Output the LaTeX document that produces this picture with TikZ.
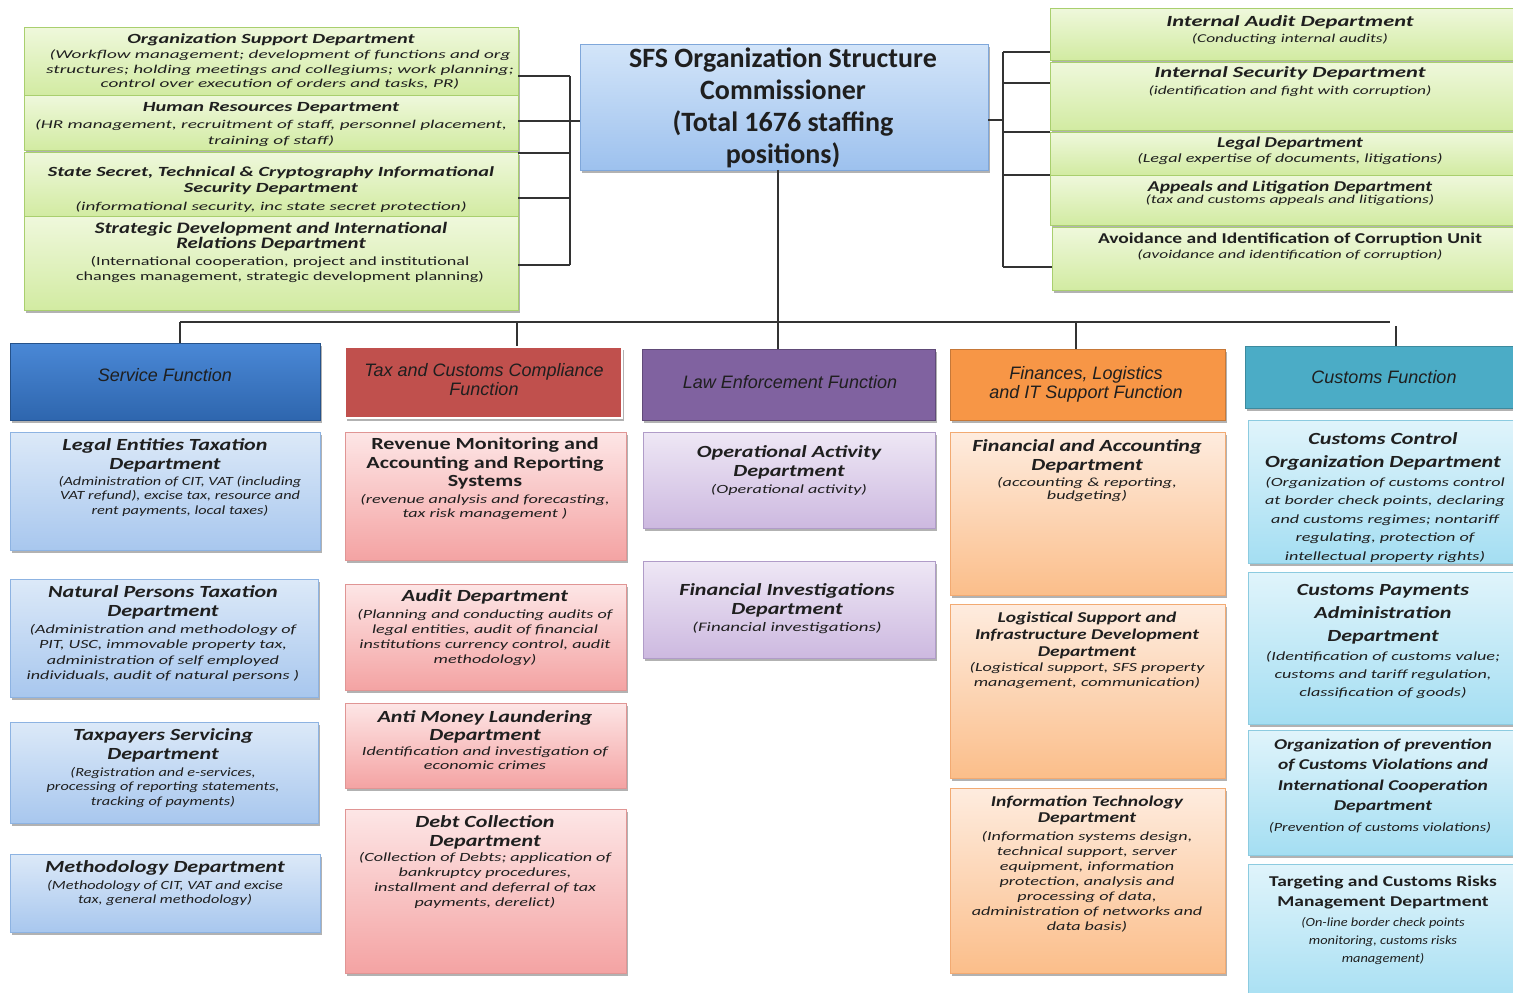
\documentclass[tikz,border=0pt]{standalone}
\usepackage{fontspec}
\setmainfont{Carlito}
\newfontfamily\fsA{Carlito}[FakeStretch=1.15]
\newfontfamily\fsB{Carlito}[FakeStretch=1.3]
\newfontfamily\fsC{Carlito}[FakeStretch=1.45]
\newfontfamily\fsD{Carlito}[FakeStretch=1.6]
\newfontfamily\hfont{Liberation Sans}
\usetikzlibrary{shadows}
\definecolor{grT}{HTML}{EFF8DC}\definecolor{grB}{HTML}{D2EBA2}\definecolor{grD}{HTML}{A9CF6E}
\definecolor{blT}{HTML}{DCE9F8}\definecolor{blB}{HTML}{A8C7EE}\definecolor{blD}{HTML}{8DB3E2}
\definecolor{rdT}{HTML}{FDE6E6}\definecolor{rdB}{HTML}{F4A3A3}\definecolor{rdD}{HTML}{E09594}
\definecolor{puT}{HTML}{EEE7F5}\definecolor{puB}{HTML}{CDB9E0}\definecolor{puD}{HTML}{B09CC8}
\definecolor{orT}{HTML}{FEECDF}\definecolor{orB}{HTML}{FBBE8A}\definecolor{orD}{HTML}{F2AA72}
\definecolor{cyT}{HTML}{E0F4FB}\definecolor{cyB}{HTML}{A4DEF2}\definecolor{cyD}{HTML}{8CCBE0}
\definecolor{ceT}{HTML}{D3E5F9}\definecolor{ceB}{HTML}{9DC1EE}\definecolor{ceD}{HTML}{7FA7DA}
\definecolor{hSvT}{HTML}{4A88D6}\definecolor{hSvB}{HTML}{2E66AE}
\definecolor{hTax}{HTML}{C0504D}\definecolor{hLaw}{HTML}{8062A0}\definecolor{hFin}{HTML}{F79646}\definecolor{hCus}{HTML}{4BACC6}
\definecolor{lnC}{HTML}{333333}
\newcommand\mybx[6]{\node[#2, minimum width={#5pt-#3pt}, minimum height={#6pt-#4pt}] (#1) at ({(#3+#5)/2},{(#4+#6)/2}) {};}
\newcommand\mytx[7]{\node[anchor=north, align=center, inner sep=0pt, font={\fontsize{#4}{#5}\selectfont #6}, text=black!88] (#1) at (#2,{#3-0.42*#4}) {#7};}
\tikzset{
 box/.style={rectangle, draw, line width=0.9pt, inner sep=0pt},
 shd/.style={drop shadow={shadow xshift=1.5pt, shadow yshift=-2.5pt, opacity=0.3, fill=black}},
 gbox/.style={box, shd, draw=grD, top color=grT, bottom color=grB},
 bbox/.style={box, shd, draw=blD, top color=blT, bottom color=blB},
 rbox/.style={box, shd, draw=rdD, top color=rdT, bottom color=rdB},
 pbox/.style={box, shd, draw=puD, top color=puT, bottom color=puB},
 obox/.style={box, shd, draw=orD, top color=orT, bottom color=orB},
 cbox/.style={box, shd, draw=cyD, top color=cyT, bottom color=cyB},
 cenbox/.style={box, shd, draw=ceD, top color=ceT, bottom color=ceB},
 hsvc/.style={box, shd, draw=hSvB!80!black, top color=hSvT, bottom color=hSvB},
 htax/.style={box, shd, draw=white, line width=2.5pt, fill=hTax},
 hlaw/.style={box, shd, draw=hLaw!75!black, fill=hLaw},
 hfin/.style={box, shd, draw=hFin!80!black, fill=hFin},
 hcus/.style={box, shd, draw=hCus!80!black, fill=hCus},
 conn/.style={draw=lnC, line width=1.6pt},
}
\begin{document}
\begin{tikzpicture}[x=1pt,y=-1pt]
\useasboundingbox (0,0) rectangle (1513,993);
\fill[white] (0,0) rectangle (1513,993);
% ---- left support panel
\mybx{os}{gbox}{24}{27}{518}{95}
\mybx{hr}{gbox}{24}{95}{518}{150}
\mybx{ss}{gbox}{24}{152}{518}{216}
\mybx{sd}{gbox}{24}{216}{518}{310}
\mytx{ost}{271}{39}{14}{15}{\fsC\bfseries\itshape}{Organization Support Department}
\mytx{osd}{280}{55}{12}{14.5}{\fsD\itshape}{(Workflow management; development of functions and org\\structures; holding meetings and collegiums; work planning;\\control over execution of orders and tasks, PR)}
\mytx{hrt}{271}{108}{14}{15}{\fsC\bfseries\itshape}{Human Resources Department}
\mytx{hrd}{271}{125}{12}{15.5}{\fsD\itshape}{(HR management, recruitment of staff, personnel placement,\\training of staff)}
\mytx{sst}{271}{172}{14}{16.5}{\fsC\bfseries\itshape}{State Secret, Technical \& Cryptography Informational\\Security Department}
\mytx{ssd}{271}{207}{12}{15}{\fsD\itshape}{(informational security, inc state secret protection)}
\mytx{sdt}{271}{229}{16}{15}{\fsB\bfseries\itshape}{Strategic Development and International\\Relations Department}
\mytx{sdd}{280}{261}{12.5}{15}{\fsC}{(International cooperation, project and institutional\\changes management, strategic development planning)}
% ---- centre
\mybx{cen}{cenbox}{580}{44}{988}{170}
\mytx{cent}{783}{59}{28}{32}{\bfseries}{SFS Organization Structure\\Commissioner\\(Total 1676 staffing\\positions)}
% ---- right support panel
\mybx{ia}{gbox}{1050}{8}{1530}{60}
\mybx{is}{gbox}{1050}{62}{1530}{130}
\mybx{lg}{gbox}{1050}{132}{1530}{175}
\mybx{ap}{gbox}{1050}{175}{1530}{225}
\mybx{av}{gbox}{1052}{227}{1530}{290}
\mytx{iat}{1290}{22}{15.5}{17}{\fsC\bfseries\itshape}{Internal Audit Department}
\mytx{iad}{1290}{39}{12}{14}{\fsC\itshape}{(Conducting internal audits)}
\mytx{ist}{1290}{73}{15.5}{17}{\fsC\bfseries\itshape}{Internal Security Department}
\mytx{isd}{1290}{91}{12}{14}{\fsC\itshape}{(identification and fight with corruption)}
\mytx{lgt}{1290}{143}{15}{16}{\fsB\bfseries\itshape}{Legal Department}
\mytx{lgd}{1290}{158}{12.5}{14}{\fsC\itshape}{(Legal expertise of documents, litigations)}
\mytx{apt}{1290}{187}{15}{16}{\fsB\bfseries\itshape}{Appeals and Litigation Department}
\mytx{apd}{1290}{200}{12}{14}{\fsC\itshape}{(tax and customs appeals and litigations)}
\mytx{avt}{1290}{239}{15}{16}{\fsB\bfseries}{Avoidance and Identification of Corruption Unit}
\mytx{avd}{1290}{255}{12}{14}{\fsC\itshape}{(avoidance and identification of corruption)}
% ---- function headers
\mybx{svc}{hsvc}{10}{343}{320}{420}
\mybx{tax}{htax}{345}{347}{622}{418}
\mybx{law}{hlaw}{642}{349}{935}{420}
\mybx{fin}{hfin}{950}{349}{1225}{420}
\mybx{cus}{hcus}{1245}{346}{1530}{408}
\mytx{svct}{165}{376}{18}{19}{\hfont\itshape}{Service Function}
\mytx{taxt}{484}{371}{18}{19}{\hfont\itshape}{Tax and Customs Compliance\\Function}
\mytx{lawt}{790}{383}{18}{19}{\hfont\itshape}{Law Enforcement Function}
\mytx{fint}{1086}{374}{18}{18.5}{\hfont\itshape}{Finances, Logistics\\and IT Support Function}
\mytx{cust}{1384}{378}{18}{19}{\hfont\itshape}{Customs Function}
% ---- column 1 service
\mybx{le}{bbox}{10}{432}{320}{550}
\mybx{np}{bbox}{10}{579}{318}{697}
\mybx{ts}{bbox}{10}{722}{318}{823}
\mybx{md}{bbox}{10}{854}{320}{932}
\mytx{let}{165}{445}{17}{19}{\fsB\bfseries\itshape}{Legal Entities Taxation\\Department}
\mytx{led}{180}{481}{12.5}{14.5}{\fsB\itshape}{(Administration of CIT, VAT (including\\VAT refund), excise tax, resource and\\rent payments, local taxes)}
\mytx{npt}{163}{592}{17}{19}{\fsB\bfseries\itshape}{Natural Persons Taxation\\Department}
\mytx{npd}{163}{629}{12.5}{15.5}{\fsC\itshape}{(Administration and methodology of\\PIT, USC, immovable property tax,\\administration of self employed\\individuals, audit of natural persons )}
\mytx{tst}{163}{736}{17}{18.5}{\fsB\bfseries\itshape}{Taxpayers Servicing\\Department}
\mytx{tsd}{163}{772}{12.5}{14.5}{\fsB\itshape}{(Registration and e-services,\\processing of reporting statements,\\tracking of payments)}
\mytx{mdt}{165}{868}{17}{19}{\fsB\bfseries\itshape}{Methodology Department}
\mytx{mdd}{165}{885}{12.5}{14}{\fsB\itshape}{(Methodology of CIT, VAT and excise\\tax, general methodology)}
% ---- column 2 compliance
\mybx{rm}{rbox}{345}{432}{626}{560}
\mybx{au}{rbox}{345}{584}{626}{690}
\mybx{am}{rbox}{345}{703}{626}{788}
\mybx{dc}{rbox}{345}{809}{626}{973}
\mytx{rmt}{485}{445}{17}{18.5}{\fsB\bfseries}{Revenue Monitoring and\\Accounting and Reporting\\Systems}
\mytx{rmd}{485}{499}{12.5}{14}{\fsC\itshape}{(revenue analysis and forecasting,\\tax risk management )}
\mytx{aut}{485}{597}{17}{19}{\fsB\bfseries\itshape}{Audit Department}
\mytx{aud}{485}{614}{12.5}{15}{\fsC\itshape}{(Planning and conducting audits of\\legal entities, audit of financial\\institutions currency control, audit\\methodology)}
\mytx{amt}{485}{717}{17}{18.5}{\fsB\bfseries\itshape}{Anti Money Laundering\\Department}
\mytx{amd}{485}{752}{12.5}{14}{\fsC\itshape}{Identification and investigation of\\economic crimes}
\mytx{dct}{485}{822}{17}{19}{\fsB\bfseries\itshape}{Debt Collection\\Department}
\mytx{dcd}{485}{857}{12.5}{15}{\fsC\itshape}{(Collection of Debts; application of\\bankruptcy procedures,\\installment and deferral of tax\\payments, derelict)}
% ---- column 3 law enforcement
\mybx{oa}{pbox}{643}{432}{935}{528}
\mybx{fi}{pbox}{643}{561}{935}{658}
\mytx{oat}{789}{452}{17}{19}{\fsB\bfseries\itshape}{Operational Activity\\Department}
\mytx{oad}{789}{489}{12.5}{14}{\fsC\itshape}{(Operational activity)}
\mytx{fit}{787}{590}{17}{19}{\fsB\bfseries\itshape}{Financial Investigations\\Department}
\mytx{fid}{787}{627}{13}{14}{\fsC\itshape}{(Financial investigations)}
% ---- column 4 finances
\mybx{fa}{obox}{950}{432}{1225}{595}
\mybx{ls}{obox}{950}{604}{1225}{778}
\mybx{it}{obox}{950}{788}{1225}{973}
\mytx{fat}{1087}{446}{17}{19}{\fsB\bfseries\itshape}{Financial and Accounting\\Department}
\mytx{fad}{1087}{482}{12.5}{13.5}{\fsC\itshape}{(accounting \& reporting,\\budgeting)}
\mytx{lst}{1087}{618}{15}{17}{\fsB\bfseries\itshape}{Logistical Support and\\Infrastructure Development\\Department}
\mytx{lsd}{1087}{667}{12.5}{15}{\fsC\itshape}{(Logistical support, SFS property\\management, communication)}
\mytx{itt}{1087}{802}{15}{16}{\fsB\bfseries\itshape}{Information Technology\\Department}
\mytx{itd}{1087}{836}{12.5}{15}{\fsC\itshape}{(Information systems design,\\technical support, server\\equipment, information\\protection, analysis and\\processing of data,\\administration of networks and\\data basis)}
% ---- column 5 customs
\mybx{cc}{cbox}{1248}{420}{1530}{563}
\mybx{cp}{cbox}{1248}{572}{1530}{724}
\mybx{op}{cbox}{1248}{730}{1530}{855}
\mybx{tg}{cbox}{1248}{864}{1530}{1010}
\mytx{cct}{1383}{440}{17}{23}{\fsB\bfseries\itshape}{Customs Control\\Organization Department}
\mytx{ccd}{1385}{482}{12.5}{18.5}{\fsC\itshape}{(Organization of customs control\\at border check points, declaring\\and customs regimes; nontariff\\regulating, protection of\\intellectual property rights)}
\mytx{cpt}{1383}{591}{17}{23}{\fsB\bfseries\itshape}{Customs Payments\\Administration\\Department}
\mytx{cpd}{1383}{656}{12.5}{18}{\fsC\itshape}{(Identification of customs value;\\customs and tariff regulation,\\classification of goods)}
\mytx{opt}{1383}{745}{15}{20.5}{\fsB\bfseries\itshape}{Organization of prevention\\of Customs Violations and\\International Cooperation\\Department}
\mytx{opd}{1380}{827}{12.5}{14}{\fsB\itshape}{(Prevention of customs violations)}
\mytx{tgt}{1383}{882}{15}{20}{\fsB\bfseries}{Targeting and Customs Risks\\Management Department}
\mytx{tgd}{1383}{922}{12.5}{18}{\fsA\itshape}{(On-line border check points\\monitoring, customs risks\\management)}
% ---- connectors: left bracket
\coordinate (l1) at (570,76); \coordinate (l2) at (570,121); \coordinate (l3) at (570,153);
\coordinate (l4) at (570,198); \coordinate (l5) at (570,265);
\draw[conn] (l1) -- (l5);
\draw[conn] (os.east |- l1) -- (l1);
\draw[conn] (hr.east |- l2) -- (l2);
\draw[conn] (ss.east |- l3) -- (l3);
\draw[conn] (ss.east |- l4) -- (l4);
\draw[conn] (sd.east |- l5) -- (l5);
\draw[conn] (l2) -- (cen.west |- l2);
% right bracket
\coordinate (r1) at (1003,52); \coordinate (r2) at (1003,83); \coordinate (r3) at (1003,132);
\coordinate (r4) at (1003,175); \coordinate (r5) at (1003,267); \coordinate (rc) at (1003,120);
\draw[conn] (r1) -- (r5);
\draw[conn] (r1) -- (ia.west |- r1);
\draw[conn] (r2) -- (is.west |- r2);
\draw[conn] (r3) -- (lg.west |- r3);
\draw[conn] (r4) -- (ap.west |- r4);
\draw[conn] (r5) -- (av.west |- r5);
\draw[conn] (cen.east |- rc) -- (rc);
% bus
\coordinate (vc) at (778,322);
\coordinate (b1) at (180,322); \coordinate (b2) at (517,322); \coordinate (b4) at (1076,322);
\coordinate (b5) at (1390,322); \coordinate (b6) at (1396,326);
\draw[conn] (vc |- cen.south) -- (vc |- law.north);
\draw[conn] (b1) -- (b5);
\draw[conn] (b1) -- (b1 |- svc.north);
\draw[conn] (b2) -- (b2 |- tax.north);
\draw[conn] (b4) -- (b4 |- fin.north);
\draw[conn] (b6) -- (b6 |- cus.north);
\end{tikzpicture}
\end{document}
